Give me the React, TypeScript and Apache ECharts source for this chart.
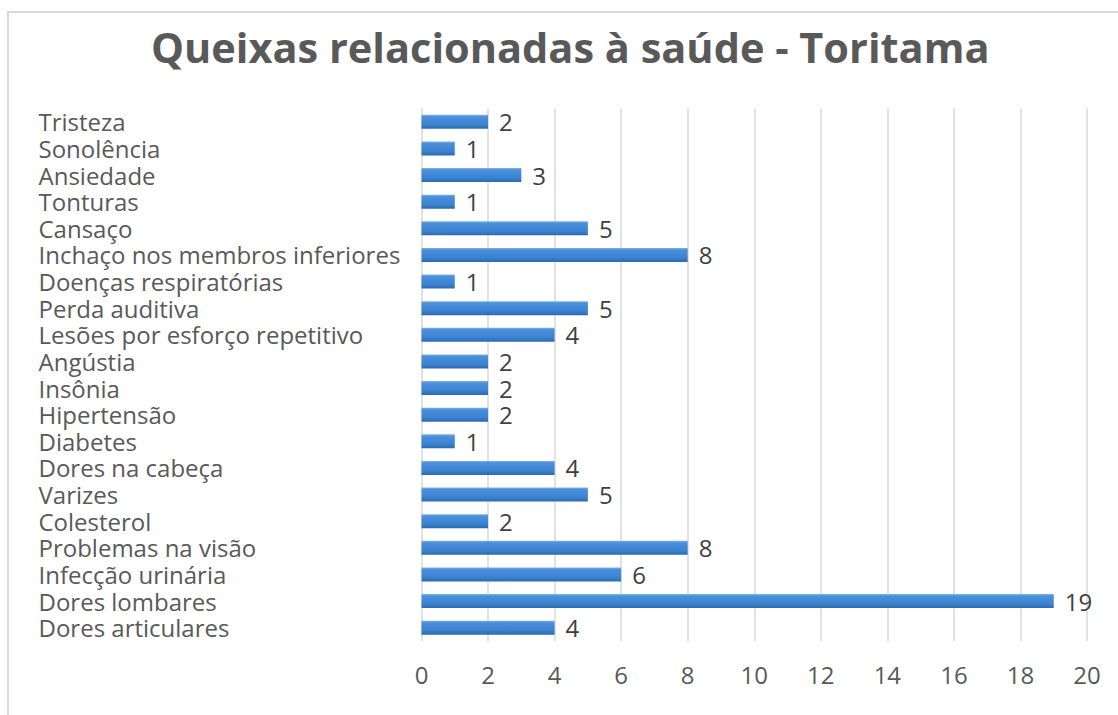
import React, { useEffect, useRef } from "react";
import * as echarts from "echarts";

const categories = [
  "Tristeza",
  "Sonolência",
  "Ansiedade",
  "Tonturas",
  "Cansaço",
  "Inchaço nos membros inferiores",
  "Doenças respiratórias",
  "Perda auditiva",
  "Lesões por esforço repetitivo",
  "Angústia",
  "Insônia",
  "Hipertensão",
  "Diabetes",
  "Dores na cabeça",
  "Varizes",
  "Colesterol",
  "Problemas na visão",
  "Infecção urinária",
  "Dores lombares",
  "Dores articulares",
];
const values = [2, 1, 3, 1, 5, 8, 1, 5, 4, 2, 2, 2, 1, 4, 5, 2, 8, 6, 19, 4];
const xMin = 0;
const xMax = 20;
const xStep = 2;
const title = "Queixas relacionadas à saúde - Toritama";

export default function App() {
  const ref = useRef<HTMLDivElement>(null);
  useEffect(() => {
    if (!ref.current) return;
    const chart = echarts.init(ref.current, undefined, { renderer: "svg" });
    const font = "'Open Sans', sans-serif";
    chart.setOption({
      animation: false,
      title: {
        text: title,
        left: 146,
        top: 21,
        textStyle: {
          fontFamily: font,
          fontSize: 41.5,
          fontWeight: "bold",
          color: "#595959",
        },
      },
      grid: { left: 421.5, right: 31, top: 108.5, bottom: 74, containLabel: false },
      xAxis: {
        type: "value",
        min: xMin,
        max: xMax,
        interval: xStep,
        axisLine: { show: false },
        axisTick: { show: false },
        splitLine: { show: true, lineStyle: { color: "#d9d9d9", width: 1.5 } },
        axisLabel: { fontFamily: font, fontSize: 24, color: "#595959", margin: 21 },
      },
      yAxis: {
        type: "category",
        data: categories,
        inverse: true,
        axisLine: { show: false },
        axisTick: { show: false },
        axisLabel: {
          interval: 0,
          hideOverlap: false,
          fontFamily: font,
          fontSize: 24,
          lineHeight: 24,
          color: "#595959",
          align: "left",
          margin: 383,
        },
      },
      series: [
        {
          type: "bar",
          data: values,
          barWidth: 14,
          itemStyle: {
            color: new echarts.graphic.LinearGradient(0, 0, 0, 1, [
              { offset: 0, color: "#80b3e8" },
              { offset: 0.14, color: "#4a90dc" },
              { offset: 0.7, color: "#3b82d0" },
              { offset: 1, color: "#2d69ad" },
            ]),
          },
          label: {
            show: true,
            position: "right",
            distance: 11,
            fontFamily: font,
            fontSize: 24,
            lineHeight: 24,
            color: "#404040",
          },
        },
      ],
    });
    return () => chart.dispose();
  }, []);
  return (
    <div style={{ position: "fixed", left: 0, top: 0, width: 1118, height: 715, background: "#fff" }}>
      <div
        style={{
          position: "absolute",
          left: 7,
          top: 11,
          width: 1200,
          height: 800,
          borderLeft: "2px solid #d9d9d9",
          borderTop: "2px solid #d9d9d9",
        }}
      />
      <div ref={ref} style={{ position: "absolute", left: 0, top: 0, width: 1118, height: 715 }} />
    </div>
  );
}
